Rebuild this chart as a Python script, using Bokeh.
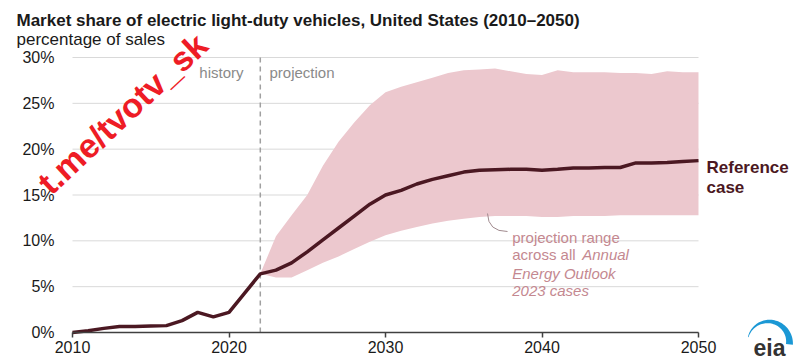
import numpy as np
from bokeh.plotting import figure
from bokeh.models import Range1d, FixedTicker, PrintfTickFormatter, Label, PolyAnnotation
from bokeh.embed import file_html
from bokeh.resources import INLINE

# ---- data ----
years = list(range(2010, 2051))
reference = [0.0, 0.2, 0.45, 0.65, 0.65, 0.7, 0.75, 1.3, 2.2, 1.7, 2.2, 4.3, 6.4,
             6.8, 7.6, 8.8, 10.1, 11.4, 12.7, 14.0, 15.0, 15.5, 16.2, 16.7, 17.1,
             17.5, 17.7, 17.75, 17.8, 17.8, 17.7, 17.8, 17.95, 17.95, 18.0, 18.0,
             18.5, 18.5, 18.55, 18.65, 18.75]
proj_years = list(range(2022, 2051))
upper = [6.4, 10.5, 12.8, 15.0, 18.2, 20.8, 22.9, 24.8, 26.2, 26.8, 27.3, 27.8,
         28.3, 28.6, 28.7, 28.8, 28.5, 28.2, 28.1, 28.6, 28.4, 28.4, 28.4, 28.3,
         28.3, 28.2, 28.5, 28.4, 28.4]
lower = [6.4, 6.0, 6.0, 6.8, 7.6, 8.3, 9.1, 9.9, 10.6, 11.1, 11.5, 11.9, 12.2,
         12.4, 12.6, 12.7, 12.7, 12.7, 12.6, 12.6, 12.7, 12.7, 12.7, 12.8, 12.8,
         12.8, 12.8, 12.8, 12.8]
x_ticks = [2010, 2020, 2030, 2040, 2050]
y_ticks = [0, 5, 10, 15, 20, 25, 30]
split_year = 2022
x_start, x_end = 2010, 2050
y_start, y_end = 0, 30

FONT = "Liberation Sans"
MAROON = "#4b1822"
BAND = "#ecc8ce"

# layout: the frame covers the whole canvas so texts outside the plotting area are not clipped
W, H = 800, 364
PX_LEFT, PX_RIGHT, PX_TOP, PX_BOTTOM = 72, 698, 57, 332
sx = (PX_RIGHT - PX_LEFT) / (x_end - x_start)
sy = (PX_BOTTOM - PX_TOP) / (y_end - y_start)
x_lo = x_start - PX_LEFT / sx
x_hi = x_end + (W - PX_RIGHT) / sx
y_lo = y_start - (H - PX_BOTTOM) / sy
y_hi = y_end + PX_TOP / sy

p = figure(width=W, height=H, output_backend="svg", toolbar_location=None,
           x_range=Range1d(x_lo, x_hi), y_range=Range1d(y_lo, y_hi),
           min_border_left=0, min_border_right=0, min_border_top=0,
           min_border_bottom=0)
p.outline_line_color = None
p.background_fill_color = "white"
p.border_fill_color = "white"
p.xgrid.visible = False
p.ygrid.visible = False

p.xaxis.fixed_location = y_start
p.yaxis.fixed_location = x_start
p.xaxis.bounds = (x_start, x_end)
p.yaxis.bounds = (y_start, y_end)
p.xaxis.ticker = FixedTicker(ticks=x_ticks)
p.yaxis.ticker = FixedTicker(ticks=y_ticks)
p.yaxis.formatter = PrintfTickFormatter(format="%d%%")
for ax in (p.xaxis, p.yaxis):
    ax.major_label_text_font = FONT
    ax.major_label_text_font_size = "16px"
    ax.major_label_text_color = "#1a1a1a"
    ax.minor_tick_line_color = None
p.yaxis.axis_line_color = None
p.yaxis.major_tick_line_color = None
p.yaxis.major_label_standoff = 12
p.xaxis.axis_line_color = "#404040"
p.xaxis.axis_line_width = 1.5
p.xaxis.major_tick_line_color = "#404040"
p.xaxis.major_tick_line_width = 1.5
p.xaxis.major_tick_in = 0
p.xaxis.major_tick_out = 5
p.xaxis.major_label_standoff = 3

# horizontal grid lines limited to the plotting area
p.segment(x0=[x_start] * len(y_ticks), x1=[x_end] * len(y_ticks), y0=y_ticks, y1=y_ticks,
          line_color="#d9d9d9", line_width=1, level="underlay")

# band, history/projection divider, reference line
p.varea(x=proj_years, y1=lower, y2=upper, fill_color=BAND, fill_alpha=1.0)
p.segment(x0=[split_year], x1=[split_year], y0=[y_start], y1=[y_end],
          line_color="#a0a0a0", line_dash="5 4", line_width=1.5)
p.line(x=years, y=reference, line_color=MAROON, line_width=3.5)

# page px -> data, for annotation placement
def dx(px):
    return x_lo + px / sx

def dy(py):
    return y_hi - py / sy

def lab(text, px, py, size="16px", color="#1a1a1a", style="normal", align="left",
        baseline="alphabetic", angle=0.0):
    p.add_layout(Label(x=dx(px), y=dy(py), text=text, text_font=FONT,
                       text_font_size=size, text_color=color, text_font_style=style,
                       text_align=align, text_baseline=baseline, angle=angle))

lab("Market share of electric light-duty vehicles, United States (2010\u20132050)",
    16, 19.5, size="17px", style="bold")
lab("percentage of sales", 16, 38.5, size="17px")
lab("history", 243, 72.3, size="15px", color="#8a8a8a", align="right")
lab("projection", 269, 72.3, size="15px", color="#8a8a8a")
lab("Reference", 706, 167.3, size="17px", color=MAROON, style="bold")
lab("case", 706, 186.7, size="17px", color=MAROON, style="bold")

ANN = "#c48890"
lab("projection range", 511.7, 236.7, size="15px", color=ANN)
lab("across all", 511.7, 254, size="15px", color=ANN)
lab("Annual", 581.7, 254, size="15px", color=ANN, style="italic")
lab("Energy Outlook", 511.7, 272.7, size="15px", color=ANN, style="italic")
lab("2023 cases", 511.7, 290, size="15px", color=ANN, style="italic")
p.quadratic(x0=[dx(487)], y0=[dy(213)], x1=[dx(507)], y1=[dy(231)],
            cx=[dx(487.5)], cy=[dy(231)], line_color="#a08a8e", line_width=1)

# eia logo: a swoosh of growing thickness above the letters
th = np.linspace(np.radians(165), np.radians(-5), 50)
wd = np.linspace(0.6, 7.0, 50)
ox = 768 + (21 + wd / 2) * np.cos(th)
oy = 342 - (21 + wd / 2) * np.sin(th)
ix = (768 + (21 - wd / 2) * np.cos(th))[::-1]
iy = (342 - (21 - wd / 2) * np.sin(th))[::-1]
p.add_layout(PolyAnnotation(xs=[dx(v) for v in np.concatenate([ox, ix])],
                            ys=[dy(v) for v in np.concatenate([oy, iy])],
                            fill_color="#1b98d5", fill_alpha=1.0, line_color=None))
lab("eia", 753, 347, size="23px", color="#333333", style="bold")

# watermark
lab("t.me/tvotv_sk", 122, 113, size="34px", color="#ee1c25", style="bold",
    align="center", baseline="middle", angle=0.75)

open("out.html", "w").write(file_html(p, INLINE))
